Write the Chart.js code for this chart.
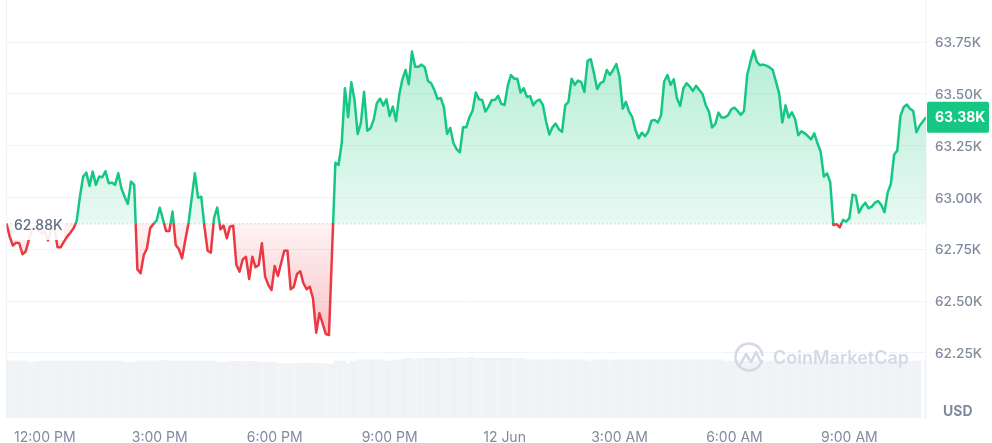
<!DOCTYPE html>
<html>
<head>
<meta charset="utf-8">
<title>BTC price</title>
<script src="https://cdn.jsdelivr.net/npm/chart.js@4"></script>
<style>
  html, body { margin: 0; padding: 0; background: #fff; }
  canvas { display: block; }
</style>
</head>
<body>
<canvas id="chart" width="992" height="443"></canvas>
<script>
// price in thousands of USD, one point every 5 minutes from 11:00 AM
const prices = [
  62.874, 62.811, 62.768, 62.782, 62.779, 62.726, 62.739, 62.795, 62.843, 62.859,
  62.843, 62.827, 62.835, 62.793, 62.843, 62.851, 62.760, 62.760, 62.787, 62.811,
  62.830, 62.851, 62.888, 63.004, 63.101, 63.120, 63.056, 63.125, 63.061, 63.101,
  63.098, 63.127, 63.069, 63.072, 63.061, 63.117, 63.044, 63.004, 62.969, 63.077,
  63.061, 62.653, 62.634, 62.722, 62.755, 62.851, 62.872, 62.888, 62.951, 62.895,
  62.838, 62.838, 62.932, 62.771, 62.750, 62.706, 62.795, 62.875, 62.996, 63.117,
  62.999, 63.004, 62.859, 62.743, 62.734, 62.900, 62.951, 62.846, 62.864, 62.803,
  62.859, 62.864, 62.674, 62.642, 62.701, 62.714, 62.606, 62.714, 62.663, 62.674,
  62.779, 62.618, 62.578, 62.553, 62.669, 62.621, 62.682, 62.743, 62.743, 62.557,
  62.569, 62.631, 62.644, 62.586, 62.557, 62.569, 62.513, 62.347, 62.441, 62.392,
  62.341, 62.336, 62.750, 63.168, 63.157, 63.262, 63.528, 63.388, 63.557, 63.471,
  63.307, 63.359, 63.511, 63.323, 63.334, 63.375, 63.455, 63.478, 63.444, 63.474,
  63.394, 63.439, 63.370, 63.495, 63.571, 63.616, 63.547, 63.705, 63.632, 63.631,
  63.642, 63.629, 63.563, 63.552, 63.520, 63.476, 63.481, 63.436, 63.307, 63.336,
  63.262, 63.233, 63.218, 63.339, 63.339, 63.388, 63.420, 63.507, 63.474, 63.471,
  63.415, 63.439, 63.471, 63.471, 63.491, 63.452, 63.447, 63.539, 63.592, 63.574,
  63.574, 63.507, 63.528, 63.486, 63.489, 63.445, 63.466, 63.473, 63.447, 63.367,
  63.304, 63.339, 63.357, 63.330, 63.317, 63.445, 63.462, 63.574, 63.544, 63.565,
  63.557, 63.510, 63.660, 63.668, 63.600, 63.524, 63.552, 63.560, 63.616, 63.592,
  63.616, 63.645, 63.584, 63.429, 63.462, 63.415, 63.388, 63.326, 63.286, 63.313,
  63.296, 63.318, 63.371, 63.375, 63.362, 63.396, 63.560, 63.592, 63.544, 63.571,
  63.479, 63.442, 63.527, 63.552, 63.536, 63.515, 63.540, 63.519, 63.500, 63.447,
  63.415, 63.338, 63.355, 63.410, 63.386, 63.387, 63.397, 63.426, 63.434, 63.418,
  63.399, 63.418, 63.592, 63.656, 63.710, 63.656, 63.639, 63.642, 63.637, 63.629,
  63.616, 63.560, 63.503, 63.362, 63.445, 63.386, 63.412, 63.378, 63.301, 63.320,
  63.310, 63.297, 63.281, 63.310, 63.262, 63.222, 63.101, 63.117, 63.074, 62.867,
  62.871, 62.856, 62.892, 62.884, 62.900, 63.014, 63.009, 62.927, 62.956, 62.975,
  62.948, 62.956, 62.975, 62.983, 62.964, 62.929, 63.025, 63.065, 63.206, 63.227,
  63.394, 63.436, 63.449, 63.429, 63.418, 63.315, 63.347, 63.367, 63.388
];

// traded volume, billions of USD (estimated, the chart has no volume axis)
const volumes = [
  28.6, 28.6, 28.6, 28.6, 28.6, 28.6, 28.6, 28.1, 28.1, 28.1,
  28.5, 28.5, 28.5, 28.5, 28.5, 28.5, 28.5, 28.5, 28.5, 28.5,
  28.5, 28.5, 28.5, 28.5, 28.5, 28.5, 28.5, 28.5, 28.5, 28.5,
  28.5, 28.5, 28.5, 28.5, 28.5, 28.5, 28.5, 28.0, 28.0, 28.0,
  28.0, 28.6, 28.6, 28.6, 28.6, 28.6, 28.6, 28.6, 28.7, 28.7,
  28.7, 28.7, 28.5, 28.5, 28.5, 28.5, 28.5, 28.5, 28.5, 28.5,
  28.5, 28.5, 28.5, 28.5, 28.5, 28.5, 27.9, 27.9, 27.9, 27.9,
  28.3, 28.3, 28.3, 28.3, 28.3, 28.3, 28.3, 28.3, 28.3, 27.9,
  27.9, 27.9, 27.9, 27.9, 27.9, 27.2, 27.2, 27.2, 27.2, 27.2,
  27.2, 27.2, 27.4, 27.4, 27.4, 27.4, 27.4, 27.4, 27.2, 27.2,
  27.2, 26.8, 26.8, 28.5, 28.5, 28.5, 28.5, 27.0, 28.5, 28.5,
  29.2, 29.2, 29.2, 29.2, 29.2, 29.2, 29.2, 29.2, 29.2, 28.5,
  28.5, 28.5, 29.2, 29.2, 29.2, 29.8, 29.8, 29.8, 29.2, 29.8,
  29.8, 29.8, 29.8, 29.8, 29.8, 29.8, 29.8, 29.8, 29.8, 29.8,
  29.8, 29.8, 30.3, 30.3, 29.8, 30.5, 30.5, 29.8, 29.8, 29.8,
  29.8, 29.8, 29.8, 29.8, 29.8, 29.8, 29.8, 29.8, 29.8, 29.8,
  29.8, 29.8, 29.8, 29.2, 29.2, 29.2, 29.2, 29.2, 29.2, 29.2,
  29.2, 29.2, 29.2, 29.2, 29.2, 29.2, 29.2, 29.2, 29.2, 29.2,
  29.2, 29.2, 28.5, 28.5, 29.2, 29.2, 29.2, 29.2, 29.2, 28.5,
  29.2, 29.2, 29.2, 29.2, 29.2, 29.2, 29.2, 29.2, 29.2, 29.2,
  29.2, 29.2, 29.2, 29.2, 29.2, 29.2, 29.2, 29.2, 29.2, 29.2,
  29.2, 29.2, 29.2, 29.2, 29.2, 29.2, 29.2, 29.2, 29.2, 29.2,
  29.2, 29.2, 29.2, 29.2, 29.2, 28.5, 28.5, 28.5, 28.5, 28.5,
  28.5, 28.5, 28.5, 28.5, 28.5, 28.5, 28.5, 28.5, 28.5, 28.5,
  28.5, 28.5, 28.5, 28.5, 28.5, 28.5, 28.5, 28.5, 28.5, 28.5,
  28.5, 28.5, 28.5, 28.5, 28.5, 28.5, 28.5, 28.5, 28.5, 28.5,
  28.5, 28.5, 28.5, 28.5, 28.5, 28.5, 28.5, 28.5, 28.5, 28.5,
  28.5, 28.5, 28.5, 28.5, 28.5, 28.5, 28.5, 28.5, 28.5, 28.5,
  28.5, 28.5, 28.5, 28.5, 28.5, 28.5, 28.5, 0, 28.5
];

const baseline = 62.875;
const baselineLabel = '62.88K';
const lastLabel = '63.38K';
const yTicks = [62.25, 62.5, 62.75, 63, 63.25, 63.5, 63.75];
const xTickIndex = [12, 48, 84, 120, 156, 192, 228, 264];
const xTickLabels = ['12:00 PM', '3:00 PM', '6:00 PM', '9:00 PM', '12 Jun', '3:00 AM', '6:00 AM', '9:00 AM'];

const GREEN = '#16c784';
const RED = '#ea3943';
const AXIS_TEXT = '#808a9d';
const GRID = '#f1f3f6';
const MARK = '#d3d9e6';
const FONT = 'Inter, sans-serif';

const fadeGradient = (chart, fromValue, toValue, fromColor, toColor) => {
    const y = chart.scales.y;
    const g = chart.ctx.createLinearGradient(0, y.getPixelForValue(fromValue), 0, y.getPixelForValue(toValue));
    g.addColorStop(0, fromColor);
    g.addColorStop(1, toColor);
    return g;
};

// hard colour stop at the baseline, so the line flips exactly where it crosses
const lineColor = (ctx) => {
    const chart = ctx.chart;
    if (!chart.chartArea) return GREEN;
    const area = chart.chartArea;
    const g = chart.ctx.createLinearGradient(0, area.top, 0, area.bottom);
    const stop = (chart.scales.y.getPixelForValue(baseline) - area.top) / (area.bottom - area.top);
    g.addColorStop(0, GREEN);
    g.addColorStop(stop, GREEN);
    g.addColorStop(stop, RED);
    g.addColorStop(1, RED);
    return g;
};

const lineFill = (ctx) => {
    const chart = ctx.chart;
    if (!chart.chartArea) return false;
    return {
        value: baseline,
        above: fadeGradient(chart, 63.75, baseline, 'rgba(22,199,132,0.32)', 'rgba(22,199,132,0.10)'),
        below: fadeGradient(chart, baseline, 62.33, 'rgba(234,57,67,0.06)', 'rgba(234,57,67,0.30)')
    };
};

const roundRect = (c, x, y, w, h, r) => {
    c.beginPath();
    c.roundRect(x, y, w, h, r);
    c.fill();
};

const framePlugin = {
    id: 'frame',
    beforeDatasetsDraw(chart) {
        const c = chart.ctx, a = chart.chartArea;
        c.save();
        c.strokeStyle = GRID;
        c.lineWidth = 1;
        c.beginPath();
        c.moveTo(a.left, a.top);
        c.lineTo(a.left, a.bottom);
        c.moveTo(a.right, a.top);
        c.lineTo(a.right, a.bottom);
        c.stroke();
        c.restore();
    },
    afterDatasetsDraw(chart) {
        const c = chart.ctx, a = chart.chartArea, y = chart.scales.y;
        const by = y.getPixelForValue(baseline);
        c.save();

        // dotted open-price line
        c.strokeStyle = '#a6b0c3';
        c.lineWidth = 1;
        c.setLineDash([1, 3]);
        c.beginPath();
        c.moveTo(a.left, by + 0.5);
        c.lineTo(a.right, by + 0.5);
        c.stroke();
        c.setLineDash([]);

        // open-price label sits on a white plate that hides the line
        c.fillStyle = 'rgba(255,255,255,0.9)';
        c.fillRect(12, 217, 52, 23);
        c.fillStyle = '#616e85';
        c.font = '500 14px ' + FONT;
        c.textBaseline = 'middle';
        c.textAlign = 'left';
        c.fillText(baselineLabel, 14, 226);

        // last price tag
        const ly = y.getPixelForValue(prices[prices.length - 1]);
        c.fillStyle = GREEN;
        roundRect(c, 927, ly - 15.5, 62, 31, 2);
        c.fillStyle = '#fff';
        c.font = '700 14px ' + FONT;
        c.fillText(lastLabel, 935, ly + 1);

        // currency
        c.fillStyle = AXIS_TEXT;
        c.font = '700 14px ' + FONT;
        c.fillText('USD', 943, 412);

        // watermark
        c.strokeStyle = MARK;
        c.lineWidth = 2.6;
        c.lineCap = 'round';
        c.lineJoin = 'round';
        c.beginPath();
        c.arc(749, 357, 13.5, 0.1 * Math.PI, 1.95 * Math.PI);
        c.stroke();
        c.beginPath();
        c.moveTo(740, 365);
        c.lineTo(746, 354);
        c.lineTo(751, 362);
        c.lineTo(756, 352);
        c.lineTo(761, 362);
        c.stroke();
        c.fillStyle = MARK;
        c.font = '600 18px ' + FONT;
        c.fillText('CoinMarketCap', 773, 359);
        c.restore();
    }
};

new Chart(document.getElementById('chart'), {
    data: {
        datasets: [
            {
                type: 'line',
                data: prices.map((p, i) => ({ x: i, y: p })),
                yAxisID: 'y',
                borderColor: lineColor,
                borderWidth: 2.5,
                borderJoinStyle: 'round',
                pointRadius: 0,
                tension: 0,
                fill: lineFill,
                order: 1
            },
            {
                type: 'bar',
                data: volumes.map((v, i) => ({ x: i, y: v })),
                yAxisID: 'vol',
                backgroundColor: '#f0f3f6',
                barThickness: 2.6,
                order: 2
            }
        ]
    },
    options: {
        responsive: false,
        animation: false,
        devicePixelRatio: 1,
        layout: { padding: { left: 6.5, top: 0, right: 0, bottom: 0 } },
        plugins: { legend: { display: false }, tooltip: { enabled: false } },
        scales: {
            x: {
                type: 'linear',
                offset: false,
                min: 0,
                max: 288,
                afterBuildTicks: (s) => { s.ticks = xTickIndex.map(v => ({ value: v })); },
                afterFit: (s) => { s.height = 25; s.paddingLeft = 0; s.paddingRight = 0; },
                grid: { display: false },
                border: { display: false },
                ticks: {
                    autoSkip: false,
                    maxRotation: 0,
                    padding: 3,
                    color: AXIS_TEXT,
                    font: { family: FONT, size: 14 },
                    callback: (v) => xTickLabels[xTickIndex.indexOf(v)]
                }
            },
            y: {
                position: 'right',
                min: 61.935,
                max: 63.954,
                afterBuildTicks: (s) => { s.ticks = yTicks.map(v => ({ value: v })); },
                afterFit: (s) => { s.width = 66; s.paddingTop = 0; s.paddingBottom = 0; },
                grid: { color: GRID, drawTicks: false },
                border: { display: false },
                ticks: {
                    padding: 9,
                    labelOffset: 1,
                    color: AXIS_TEXT,
                    font: { family: FONT, size: 13.6, weight: '500' },
                    callback: (v) => v.toFixed(2) + 'K'
                }
            },
            vol: {
                display: false,
                min: 0,
                max: 209
            }
        }
    },
    plugins: [framePlugin]
});
</script>
</body>
</html>
